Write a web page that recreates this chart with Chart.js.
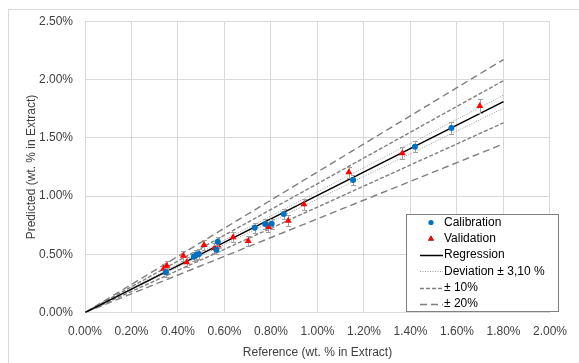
<!DOCTYPE html>
<html>
<head>
<meta charset="utf-8">
<title>Predicted vs Reference</title>
<script src="https://cdn.jsdelivr.net/npm/chart.js@4.4.1/dist/chart.umd.min.js"></script>
<style>
  html, body { margin: 0; padding: 0; background: #fff; }
</style>
</head>
<body>
<canvas id="chart" width="579" height="363"></canvas>
<script>
// values in wt. % in extract
const calRef  = [0.348, 0.468, 0.479, 0.490, 0.565, 0.571, 0.730, 0.775, 0.803, 0.855, 1.153, 1.419, 1.576];
const calPred = [0.345, 0.479, 0.494, 0.503, 0.540, 0.608, 0.729, 0.760, 0.763, 0.846, 1.138, 1.424, 1.585];
const calErr  = [0.040, 0.040, 0.040, 0.040, 0.040, 0.042, 0.043, 0.044, 0.044, 0.045, 0.045, 0.049, 0.050];

const valRef  = [0.338, 0.352, 0.423, 0.437, 0.512, 0.557, 0.574, 0.637, 0.702, 0.789, 0.874, 0.942, 1.135, 1.365, 1.698];
const valPred = [0.375, 0.402, 0.488, 0.431, 0.580, 0.551, 0.567, 0.646, 0.614, 0.735, 0.789, 0.929, 1.204, 1.368, 1.774];
const valErr  = [0.040, 0.040, 0.042, 0.042, 0.042, 0.042, 0.042, 0.044, 0.046, 0.045, 0.050, 0.048, 0.050, 0.052, 0.057];

const regRef  = [0, 1.8];
const regPred = [0, 1.811];

// relative deviation bands around the regression line, in %
const bandPct = [3.10, 10, 20];

const xTicks = { min: 0, max: 2.0, step: 0.2 };
const yTicks = { min: 0, max: 2.5, step: 0.5 };

const FONT = '"Liberation Sans", Arial, sans-serif';
const TEXT = '#404040';
const GRID = '#d9d9d9';

const pts = (xs, ys) => xs.map((x, i) => ({ x, y: ys[i] }));
const band = (pct, sign) => regRef.map((x, i) => ({ x, y: regPred[i] * (1 + sign * pct / 100) }));

const lineDs = (label, data, color, width, dash) => ({
  label, data, showLine: true, borderColor: color, borderWidth: width,
  borderDash: dash, pointRadius: 0, pointHoverRadius: 0, fill: false,
});

const styles = [
  { color: '#9a9a9a', width: 1, dash: [1, 1.5] },
  { color: '#7f7f7f', width: 1.4, dash: [4, 2] },
  { color: '#7f7f7f', width: 1.4, dash: [7, 4] },
];

const datasets = [
  {
    label: 'Calibration', data: pts(calRef, calPred), errors: calErr,
    pointStyle: 'circle', pointRadius: 3, backgroundColor: '#0070c0', borderColor: '#0070c0', borderWidth: 0,
  },
  {
    label: 'Validation', data: pts(valRef, valPred), errors: valErr,
    pointStyle: 'triangle', pointRadius: 4, backgroundColor: '#ff0000', borderColor: '#ff0000', borderWidth: 0,
  },
  lineDs('Regression', pts(regRef, regPred), '#000000', 1.5, []),
];
bandPct.forEach((p, k) => {
  const s = styles[k];
  datasets.push(lineDs('+' + p, band(p, 1), s.color, s.width, s.dash));
  datasets.push(lineDs('-' + p, band(p, -1), s.color, s.width, s.dash));
});

// light frame round the whole chart
const frame = {
  id: 'frame',
  beforeDraw(chart) {
    const { ctx } = chart;
    ctx.save();
    ctx.fillStyle = '#fff';
    ctx.fillRect(0, 0, chart.width, chart.height);
    ctx.strokeStyle = GRID;
    ctx.lineWidth = 1;
    ctx.strokeRect(8.5, 9.5, 700, 500);
    ctx.restore();
  },
};

// vertical error bars, drawn just under each scatter series
const errorBars = {
  id: 'errorBars',
  beforeDatasetDraw(chart, args) {
    const ds = chart.data.datasets[args.index];
    if (!ds.errors) return;
    const { ctx, scales: { x, y } } = chart;
    ctx.save();
    ctx.strokeStyle = '#a0a0a0';
    ctx.lineWidth = 1;
    ds.data.forEach((p, i) => {
      const px = Math.round(x.getPixelForValue(p.x)) + 0.5;
      const top = Math.round(y.getPixelForValue(p.y + ds.errors[i])) + 0.5;
      const bot = Math.round(y.getPixelForValue(p.y - ds.errors[i])) + 0.5;
      ctx.beginPath();
      ctx.moveTo(px, top); ctx.lineTo(px, bot);
      ctx.moveTo(px - 2.5, top); ctx.lineTo(px + 2.5, top);
      ctx.moveTo(px - 2.5, bot); ctx.lineTo(px + 2.5, bot);
      ctx.stroke();
    });
    ctx.restore();
  },
};

// boxed legend in the lower right of the plot
const boxLegend = {
  id: 'boxLegend',
  afterDraw(chart) {
    const { ctx } = chart;
    const bx = 406.5, by = 214.5, bw = 152, bh = 97;
    ctx.save();
    ctx.fillStyle = '#fff';
    ctx.fillRect(bx, by, bw, bh);
    ctx.strokeStyle = '#808080';
    ctx.lineWidth = 1;
    ctx.strokeRect(bx, by, bw, bh);

    const rows = [
      { text: 'Calibration', kind: 'point', ds: 0 },
      { text: 'Validation', kind: 'point', ds: 1 },
      { text: 'Regression', kind: 'line', ds: 2 },
      { text: 'Deviation \u00b1 3,10 %', kind: 'line', ds: 3 },
      { text: '\u00b1 10%', kind: 'line', ds: 5 },
      { text: '\u00b1 20%', kind: 'line', ds: 7 },
    ];
    const x0 = 420, x1 = 443, tx = 444;
    ctx.font = '12px ' + FONT;
    ctx.textBaseline = 'middle';
    rows.forEach((r, i) => {
      const cy = 222.5 + i * 16.3;
      const ds = chart.data.datasets[r.ds];
      if (r.kind === 'point') {
        Chart.helpers.drawPoint(ctx, {
          pointStyle: ds.pointStyle, radius: ds.pointStyle === 'triangle' ? 3.4 : 2.6,
          rotation: 0, borderWidth: 0,
        }, (x0 + x1) / 2 - 0.5, cy);
        ctx.fillStyle = ds.backgroundColor;
        ctx.fill();
      } else {
        ctx.beginPath();
        ctx.strokeStyle = ds.borderColor;
        ctx.lineWidth = ds.borderWidth;
        ctx.setLineDash(ds.borderDash);
        ctx.moveTo(x0, Math.round(cy) + 0.5);
        ctx.lineTo(x1, Math.round(cy) + 0.5);
        ctx.stroke();
        ctx.setLineDash([]);
      }
      ctx.fillStyle = '#000';
      ctx.fillText(r.text, tx, cy);
    });
    ctx.restore();
  },
};

const pct = v => v.toFixed(2) + '%';

new Chart(document.getElementById('chart'), {
  type: 'scatter',
  data: { datasets },
  plugins: [frame, errorBars, boxLegend],
  options: {
    responsive: false,
    animation: false,
    layout: { padding: { top: 21.5, right: 21, bottom: 0, left: 0 } },
    plugins: { legend: { display: false }, tooltip: { enabled: false } },
    scales: {
      x: {
        type: 'linear', min: xTicks.min, max: xTicks.max,
        afterFit(s) { s.height = 50.5; },
        ticks: { stepSize: xTicks.step, callback: pct, color: TEXT, font: { family: FONT, size: 12 }, padding: 12, maxRotation: 0 },
        grid: { color: GRID, drawTicks: false },
        border: { color: GRID },
        title: { display: true, text: 'Reference (wt. % in Extract)', color: TEXT, font: { family: FONT, size: 12 }, padding: { top: 0, bottom: 3 } },
      },
      y: {
        type: 'linear', min: yTicks.min, max: yTicks.max,
        afterFit(s) { s.width = 85; },
        ticks: { stepSize: yTicks.step, callback: pct, color: TEXT, font: { family: FONT, size: 12 }, padding: 12 },
        grid: { color: GRID, drawTicks: false },
        border: { color: GRID },
        title: { display: true, text: 'Predicted (wt. % in Extract)', color: TEXT, font: { family: FONT, size: 12 }, padding: { top: 24.5, bottom: 0 } },
      },
    },
  },
});
</script>
</body>
</html>
